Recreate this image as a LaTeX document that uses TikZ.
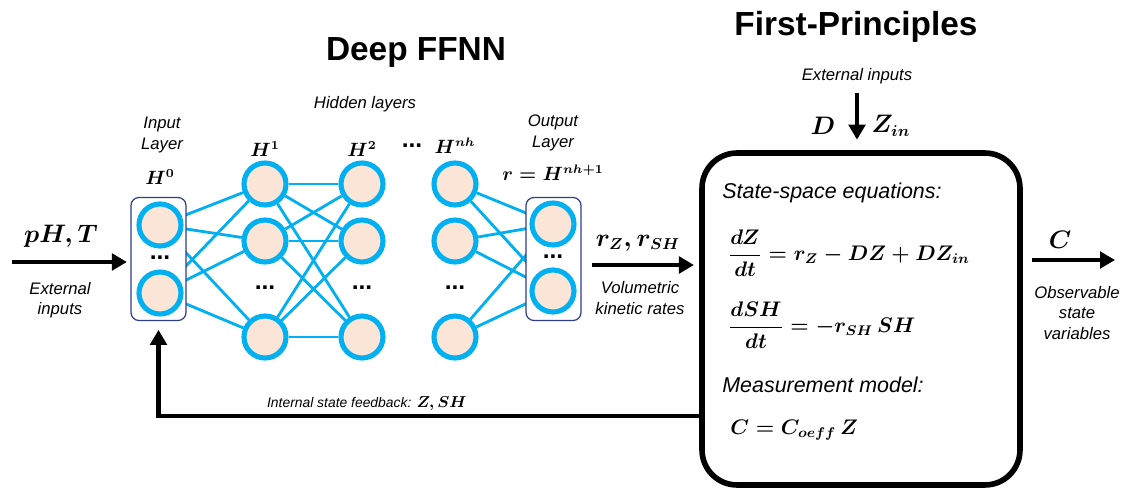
\documentclass[tikz,border=0pt]{standalone}
\usepackage{amsmath}
\usepackage{fontspec}
\setmainfont{Liberation Sans}
\usetikzlibrary{arrows.meta,backgrounds}
\definecolor{nblue}{HTML}{00B0F0}
\definecolor{npeach}{HTML}{FBE5D6}
\definecolor{navyb}{HTML}{2F3C8C}
\begin{document}
\begin{tikzpicture}[x=0.02cm,y=-0.02cm,
  neuron/.style={circle,draw=nblue,fill=npeach,line width=2.9pt,minimum size=0.84cm,inner sep=0pt},
  link/.style={draw=nblue,line width=1.6pt},
  layerbox/.style={draw=navyb,fill=white,rounded corners=0.16cm,line width=0.7pt,minimum width=1.1cm,minimum height=2.46cm,inner sep=0pt},
  arr/.style={line width=2.6pt,-{Triangle[length=0.3cm,width=0.33cm]}},
  title/.style={font=\fontsize{19}{22}\selectfont\bfseries},
  lab/.style={font=\fontsize{9.5}{11.5}\selectfont\itshape,align=center,inner sep=1pt},
  boxlab/.style={font=\fontsize{12.2}{14}\selectfont\itshape,anchor=west,inner sep=0pt},
  hlab/.style={font=\fontsize{10.5}{12}\selectfont\boldmath,inner sep=1pt},
  mathbig/.style={font=\fontsize{13.5}{16}\selectfont\boldmath,inner sep=1pt},
  eq/.style={font=\fontsize{12}{14}\selectfont\boldmath,anchor=west,inner sep=0pt},
  dots/.style={font=\fontsize{14}{14}\selectfont\bfseries,inner sep=0pt}
]
\useasboundingbox (0,0) rectangle (1123,490);
\begin{scope}[on background layer]
\fill[white] (0,0) rectangle (1123,490);
\end{scope}

% titles
\node[title] (t1) at (416,52) {Deep FFNN};
\node[title] (t2) at (856,27) {First-Principles};
\node[lab] (hid) at (365,104) {Hidden layers};

% input layer
\node[lab] (inlab) at (162,135) {Input\\Layer};
\node[hlab] (h0) at (160,177) {$H^0$};
\node[layerbox] (inbox) at (158.5,259) {};
\node[neuron] (in1) at (160,225) {};
\node[neuron] (in2) at (160,293) {};
\node[dots] (din) at (160,258) {...};

% hidden layers
\node[hlab] (lh1) at (265,149) {$H^1$};
\node[hlab] (lh2) at (362,149) {$H^2$};
\node[dots] (dtop) at (412,146) {...};
\node[hlab] (lhn) at (455,146) {$H^{nh}$};
\foreach \n/\x in {h1/265,h2/362,hn/455}{
  \node[neuron] (\n a) at (\x,184) {};
  \node[neuron] (\n b) at (\x,241) {};
  \node[dots] (\n d) at (\x,288) {...};
  \node[neuron] (\n c) at (\x,337) {};
}

% output layer
\node[lab] (outlab) at (553,133) {Output\\Layer};
\node[hlab] (rlab) at (553,173) {$r = H^{nh+1}$};
\node[layerbox] (outbox) at (553.5,259) {};
\node[neuron] (out1) at (553,224) {};
\node[neuron] (out2) at (553,291) {};
\node[dots] (dout) at (553,257) {...};

\begin{scope}[on background layer]
\foreach \i in {in1,in2}{\foreach \j in {h1a,h1b,h1c}{\draw[link] (\i)--(\j);}}
\foreach \i in {h1a,h1b,h1c}{\foreach \j in {h2a,h2b,h2c}{\draw[link] (\i)--(\j);}}
\foreach \i in {hna,hnb,hnc}{\foreach \j in {out1,out2}{\draw[link] (\i)--(\j);}}
\end{scope}

% external input arrow
\coordinate (pstart) at (12,262);
\draw[arr,shorten >=2pt] (pstart) -- (pstart -| inbox.west);
\node[mathbig] (pht) at (61,236) {$pH, T$};
\node[lab] (extin) at (60,300) {External\\inputs};

% first-principles box
\node[draw,line width=3.2pt,rounded corners=0.7cm,minimum width=6.36cm,minimum height=6.64cm,inner sep=0pt] (mainbox) at (861,319) {};

% rates arrow
\coordinate (rlev) at (0,265);
\draw[arr,shorten <=6pt,shorten >=3pt] (outbox.east |- rlev) -- (mainbox.west |- rlev);
\node[mathbig] (rates) at (638,243) {$r_Z, r_{SH}$};
\node[lab] (vol) at (640,298) {Volumetric\\kinetic rates};

% top external inputs
\node[lab] (extfp) at (857,76) {External inputs};
\coordinate (tstart) at (857,93);
\draw[arr,shorten >=6pt] (tstart) -- (tstart |- mainbox.north);
\node[mathbig] (dlab) at (823,126) {$D$};
\node[mathbig] (zin) at (891,126) {$Z_{in}$};

% box content
\node[boxlab] (sse) at (722,193) {State-space equations:};
\node[eq] (eq1) at (728,253) {$\dfrac{dZ}{dt} = r_Z - DZ + DZ_{in}$};
\node[eq] (eq2) at (728,325) {$\dfrac{dSH}{dt} = -r_{SH}\,SH$};
\node[boxlab] (mm) at (722,385) {Measurement model:};
\node[eq] (eq3) at (730,430) {$C = C_{oeff}\,Z$};

% output arrow
\coordinate (clev) at (0,260);
\draw[arr,shorten <=5pt] (mainbox.east |- clev) -- (1115,260);
\node[mathbig] (clab) at (1060,240) {$C$};
\node[lab] (obs) at (1077,313) {Observable\\state\\variables};

% feedback
\coordinate (fbturn) at (158.5,416);
\draw[arr,shorten >=5pt] (mainbox.west |- fbturn) -- (fbturn) -- (inbox.south);
\node[lab,anchor=base west,font=\fontsize{7.9}{10}\selectfont\itshape] (fblab) at (265,407) {Internal state feedback: {\upshape\fontsize{9}{11}\selectfont\boldmath$Z, SH$}};
\end{tikzpicture}
\end{document}
